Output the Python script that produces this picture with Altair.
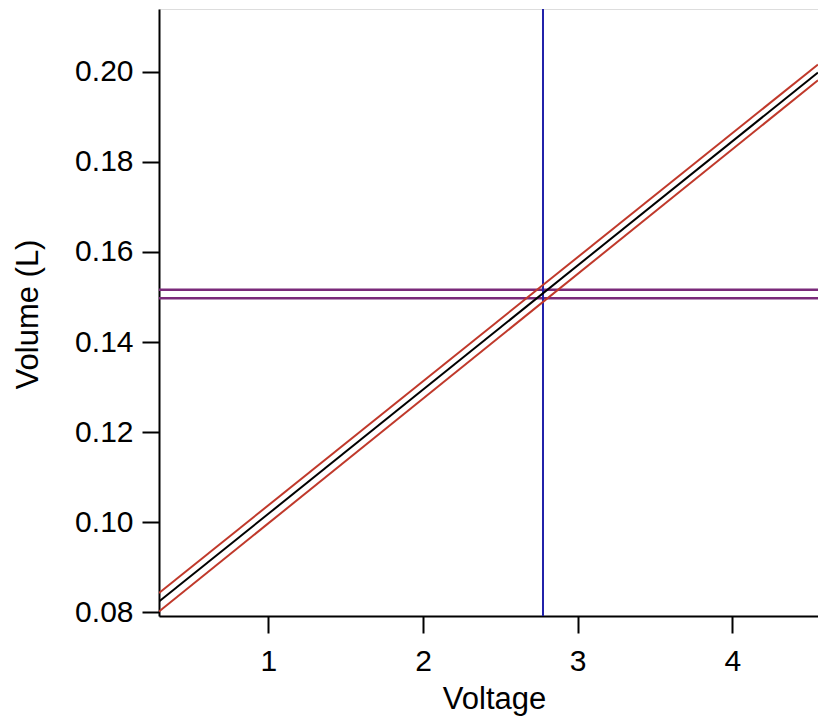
import altair as alt
import pandas as pd

# Data
x_ends = [0.2933, 4.554]
fit_line = [0.0824, 0.1998]
upper_band = [0.0843, 0.2016]
lower_band = [0.0802, 0.1981]
series_names = ["fit", "upper", "lower"]
series_values = [fit_line, upper_band, lower_band]
series_colors = ["#000000", "#c0392b", "#c0392b"]

h_levels = [0.1516, 0.1497]
v_level = [2.776]

x_ticks = [1, 2, 3, 4]
y_ticks = [0.08, 0.10, 0.12, 0.14, 0.16, 0.18, 0.20]
x_domain = [0.2933, 4.554]
y_domain = [0.0792, 0.2139]

rows = []
for name, vals in zip(series_names, series_values):
    for xv, yv in zip(x_ends, vals):
        rows.append({"series": name, "Voltage": xv, "Volume": yv})
lines_df = pd.DataFrame(rows)
h_df = pd.DataFrame({"Volume": h_levels})
v_df = pd.DataFrame({"Voltage": v_level})

FONT = "Liberation Sans"

x_scale = alt.Scale(domain=x_domain, nice=False, zero=False)
y_scale = alt.Scale(domain=y_domain, nice=False, zero=False)

x_axis = alt.Axis(
    title="Voltage", values=x_ticks, format="d", grid=False,
    domainColor="black", domainWidth=2, tickColor="black", tickWidth=2,
    tickSize=17, labelPadding=13, labelFont=FONT, labelFontSize=30,
    labelColor="black", titleFont=FONT, titleFontSize=31,
    titleFontWeight="normal", titleColor="black",
    titleBaseline="alphabetic", titleX=335, titleY=92, titleAlign="center",
)
y_axis = alt.Axis(
    title="Volume (L)", values=y_ticks, format=".2f", grid=False,
    domainColor="black", domainWidth=2, tickColor="black", tickWidth=2,
    tickSize=17, labelPadding=9, labelFont=FONT, labelFontSize=30,
    labelColor="black", titleFont=FONT, titleFontSize=31,
    titleFontWeight="normal", titleColor="black", titleAngle=270,
    titleBaseline="alphabetic", titleX=-122, titleY=305, titleAlign="center",
)

lines = alt.Chart(lines_df).mark_line(strokeWidth=2, clip=True).encode(
    x=alt.X("Voltage:Q", scale=x_scale, axis=x_axis),
    y=alt.Y("Volume:Q", scale=y_scale, axis=y_axis),
    color=alt.Color("series:N", scale=alt.Scale(domain=series_names, range=series_colors), legend=None),
    detail="series:N",
)

hrules = alt.Chart(h_df).mark_rule(color="#7a2a7a", strokeWidth=2.5).encode(
    y=alt.Y("Volume:Q", scale=y_scale),
)

vrule = alt.Chart(v_df).mark_rule(color="#2222aa", strokeWidth=2).encode(
    x=alt.X("Voltage:Q", scale=x_scale),
)

chart = alt.layer(hrules, vrule, lines).properties(
    width=659, height=607,
    autosize=alt.AutoSizeParams(type="none"),
    padding={"left": 159, "top": 9, "right": 0, "bottom": 101},
).configure_view(stroke=None).configure(background="white")

chart.save("out.html", embed_options={"renderer": "svg", "actions": False})
